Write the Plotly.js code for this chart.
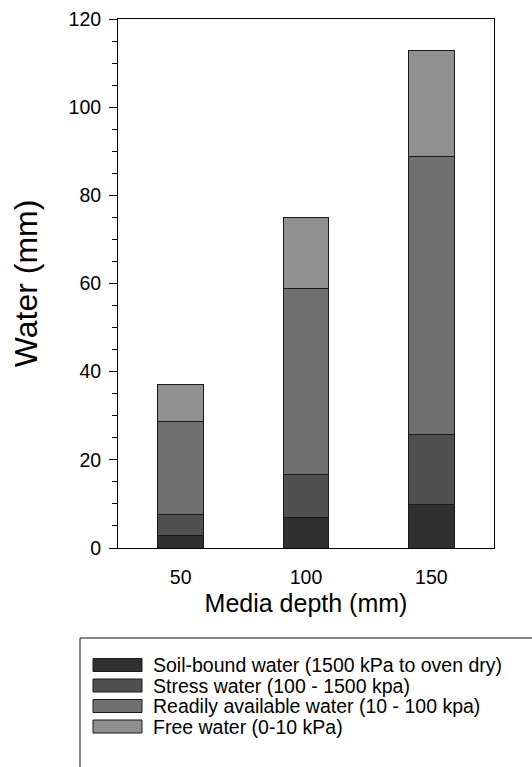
<!DOCTYPE html>
<html>
<head>
<meta charset="utf-8">
<script src="https://cdn.plot.ly/plotly-3.0.1.min.js"></script>
<style>html,body{margin:0;padding:0;background:#fff;}#chart{width:532px;height:767px;}</style>
</head>
<body>
<div id="chart"></div>
<script>
// ---- data ----
const categories = ['50', '100', '150'];
const soilBound = [2.8, 6.9, 9.8];
const stressWater = [4.9, 9.8, 15.9];
const readilyAvailable = [21.0, 42.2, 63.1];
const freeWater = [8.3, 16.1, 24.1];
const seriesNames = [
  'Soil-bound water (1500 kPa to oven dry)',
  'Stress water (100 - 1500 kpa)',
  'Readily available water (10 - 100 kpa)',
  'Free water (0-10 kPa)'
];
const seriesColors = ['#303030', '#505050', '#707070', '#909090'];
const seriesValues = [soilBound, stressWater, readilyAvailable, freeWater];

// ---- geometry ----
const W = 532, H = 767;
const M = {l: 118, r: 38, t: 19, b: 219};
const PW = W - M.l - M.r, PH = H - M.t - M.b;
const px2x = p => (p - M.l) / PW;
const py2y = p => (H - M.b - p) / PH;

const traces = seriesValues.map((vals, i) => ({
  type: 'bar',
  x: categories,
  y: vals,
  name: seriesNames[i],
  marker: {color: seriesColors[i], line: {color: '#1a1a1a', width: 1}},
  width: 0.362,
  showlegend: false,
  hoverinfo: 'skip'
}));

// custom legend (wide swatches like the reference)
const shapes = [
  {type: 'line', xref: 'paper', yref: 'paper', x0: px2x(80), x1: px2x(540), y0: py2y(638), y1: py2y(638), line: {color: '#111', width: 1}},
  {type: 'line', xref: 'paper', yref: 'paper', x0: px2x(80), x1: px2x(80), y0: py2y(638), y1: py2y(780), line: {color: '#111', width: 1}}
];
const annotations = [];
const rowY = [665, 685.5, 706, 726.5];
seriesNames.forEach((n, i) => {
  shapes.push({type: 'rect', xref: 'paper', yref: 'paper',
    x0: px2x(93), x1: px2x(142), y0: py2y(rowY[i] - 6.5), y1: py2y(rowY[i] + 6.5),
    fillcolor: seriesColors[i], line: {color: '#1a1a1a', width: 1}});
  annotations.push({xref: 'paper', yref: 'paper', x: px2x(151), y: py2y(rowY[i]),
    xanchor: 'left', yanchor: 'middle', showarrow: false, text: n,
    font: {family: 'Liberation Sans, Arial, sans-serif', size: 19.5, color: '#000'}});
});

const layout = {
  width: W, height: H,
  margin: M,
  paper_bgcolor: '#fff', plot_bgcolor: '#fff',
  barmode: 'stack',
  font: {family: 'Liberation Sans, Arial, sans-serif', color: '#000'},
  xaxis: {
    type: 'category', range: [-0.5, 2.5],
    showline: true, linecolor: '#000', linewidth: 1, mirror: true,
    ticks: '', showgrid: false, zeroline: false,
    ticklabelstandoff: 12,
    tickfont: {size: 19.5, color: '#000'},
    title: {text: 'Media depth (mm)', font: {size: 25, color: '#000'}, standoff: 7}
  },
  yaxis: {
    range: [0, 120], dtick: 20, tick0: 0,
    showline: true, linecolor: '#000', linewidth: 1, mirror: true,
    ticks: 'outside', ticklen: 8, tickwidth: 1, tickcolor: '#000',
    minor: {dtick: 5, ticks: 'outside', ticklen: 5, tickwidth: 1, tickcolor: '#000', showgrid: false},
    showgrid: false, zeroline: false,
    ticklabelstandoff: 4,
    tickfont: {size: 19.5, color: '#000'},
    title: {text: 'Water (mm)', font: {size: 32, color: '#000'}, standoff: 21}
  },
  shapes: shapes,
  annotations: annotations,
  showlegend: false
};

Plotly.newPlot('chart', traces, layout, {displayModeBar: false, staticPlot: true});
</script>
</body>
</html>
